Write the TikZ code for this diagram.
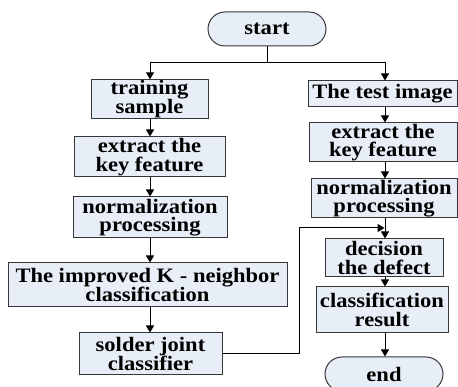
\documentclass[tikz,border=0pt]{standalone}
\usepackage{fontspec}
\setmainfont{Liberation Serif}[FakeStretch=1.1]
\usetikzlibrary{arrows.meta}
\definecolor{boxfill}{RGB}{232,238,248}
\definecolor{boxline}{RGB}{55,55,55}
\tikzset{
  box/.style={draw=boxline, fill=boxfill, line width=1pt, inner sep=0pt, align=center,
              font=\fontsize{20.5}{18.5}\selectfont\bfseries},
  term/.style={box, rounded corners=17pt},
  conn/.style={line width=1pt, draw=black},
  arr/.style={conn, -{Triangle[length=7pt,width=8pt]}},
}
\begin{document}
\begin{tikzpicture}[x=1pt,y=-1pt]
\useasboundingbox (0,0) rectangle (458,387);
% left column
\node[term, minimum width=118pt, minimum height=34pt] (start) at (267,29) {start};
\node[box, minimum width=117pt, minimum height=36pt] (train) at (149.5,99) {training\\sample};
\node[box, minimum width=151pt, minimum height=40pt] (extL) at (149.5,157) {extract the\\key feature};
\node[box, minimum width=154pt, minimum height=41pt] (normL) at (150,217.5) {normalization\\processing};
\node[box, minimum width=279pt, minimum height=44pt] (impr) at (147.5,285) {The improved K - neighbor\\classification};
\node[box, minimum width=143pt, minimum height=42pt] (solder) at (150.5,354) {solder joint\\classifier};
% right column
\node[box, minimum width=149pt, minimum height=26pt] (test) at (382.5,94) {The test image};
\node[box, minimum width=148pt, minimum height=39pt] (extR) at (383,142.5) {extract the\\key feature};
\node[box, minimum width=146pt, minimum height=39pt] (normR) at (384,198.5) {normalization\\processing};
\node[box, minimum width=118pt, minimum height=38pt] (dec) at (384,258) {decision\\the defect};
\node[box, minimum width=132pt, minimum height=46pt] (res) at (382,310) {classification\\result};
\node[term, minimum width=118pt, minimum height=34pt] (end) at (384,374) {end};
% guide coordinates
\coordinate (split) at (267,63);
\coordinate (lx) at (150,0);
\coordinate (rx) at (385,0);
\coordinate (fb) at (299,228);
% connectors
\draw[conn] (start.south) -- (split);
\draw[arr] (split) -| (train.north -| lx);
\draw[arr] (split) -| (test.north -| rx);
\draw[arr] (train.south -| lx) -- (extL.north -| lx);
\draw[arr] (extL.south -| lx) -- (normL.north -| lx);
\draw[arr] (normL.south -| lx) -- (impr.north -| lx);
\draw[arr] (impr.south -| lx) -- (solder.north -| lx);
\draw[arr] (test.south -| rx) -- (extR.north -| rx);
\draw[arr] (extR.south -| rx) -- (normR.north -| rx);
\draw[arr] (normR.south -| rx) -- (dec.north -| rx);
\draw[arr, shorten >=0.5pt] (solder.east) -| (fb) -- (fb -| rx);
\draw[arr] (dec.south -| rx) -- (res.north -| rx);
\draw[arr] (res.south -| rx) -- (end.north -| rx);
\end{tikzpicture}
\end{document}
